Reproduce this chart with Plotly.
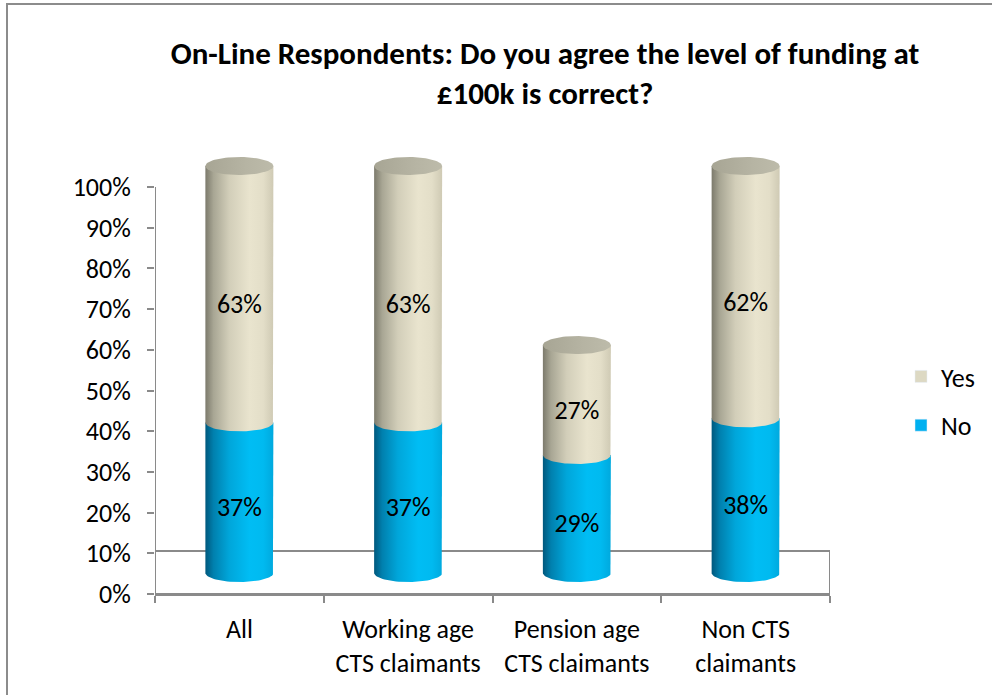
import numpy as np
import plotly.graph_objects as go

# Survey results (percent of respondents)
categories = ["All", "Working age<br>CTS claimants", "Pension age<br>CTS claimants", "Non CTS<br>claimants"]
no_values = [37, 37, 29, 38]
yes_values = [63, 63, 27, 62]
tick_values = [0, 10, 20, 30, 40, 50, 60, 70, 80, 90, 100]
tick_labels = [f"{v}%" for v in tick_values]

FONT = "Carlito, Lato, sans-serif"
W, H = 992, 695
PLOT_L, PLOT_R, PLOT_T, PLOT_B = 155, 830, 140, 594
PX_PER_UNIT = 4.07                      # pixels per percentage point
Y_TOP = (PLOT_B - PLOT_T) / PX_PER_UNIT
DEPTH_SHIFT = 21 / PX_PER_UNIT          # cylinders sit in the middle of the 3D floor
FLOOR_BACK = 43 / PX_PER_UNIT           # depth of the floor panel
X_PER_CAT = (PLOT_R - PLOT_L) / 4
RX = 34 / X_PER_CAT                     # cylinder radius (x units)
RY = 9 / PX_PER_UNIT                    # ellipse half-height (y units)
LABEL_DROP = 12 / PX_PER_UNIT           # labels sit on the front face

NO_BODY = [[0, "#00587d"], [0.12, "#0080ae"], [0.35, "#00a6da"],
           [0.65, "#00bdf4"], [0.85, "#00baf0"], [1, "#00a9de"]]
YES_BODY = [[0, "#7c7a6c"], [0.12, "#a8a694"], [0.35, "#d2ceb9"],
            [0.65, "#e9e4ce"], [0.85, "#e3dec8"], [1, "#cfcab4"]]
YES_TOP = [[0, "#a7a594"], [0.6, "#b6b4a3"], [1, "#bdbbaa"]]

fig = go.Figure()

t = np.linspace(0, np.pi, 40)
t_full = np.linspace(0, 2 * np.pi, 80)


def body(cx, y0, y1, scale):
    # side rectangle plus the visible front arc of the base
    xs = [cx - RX, cx - RX, cx + RX] + list(cx + RX * np.cos(t))
    ys = [y0, y1, y1] + list(y0 - RY * np.sin(t))
    fig.add_trace(go.Scatter(
        x=xs, y=ys, yaxis="y2", mode="lines", fill="toself",
        line=dict(width=0), fillgradient=dict(type="horizontal", colorscale=scale),
        hoverinfo="skip", showlegend=False))


def cap(cx, y, scale):
    fig.add_trace(go.Scatter(
        x=list(cx + RX * np.cos(t_full)), y=list(y + RY * np.sin(t_full)),
        yaxis="y2", mode="lines", fill="toself", line=dict(width=0),
        fillgradient=dict(type="horizontal", colorscale=scale),
        hoverinfo="skip", showlegend=False))


for i, (n, y) in enumerate(zip(no_values, yes_values)):
    body(i, 0, n, NO_BODY)
    body(i, n, n + y, YES_BODY)
    cap(i, n + y, YES_TOP)

# value labels on the front face of each segment
label_x, label_y, label_txt = [], [], []
for i, (n, y) in enumerate(zip(no_values, yes_values)):
    label_x += [i, i]
    label_y += [n / 2 - LABEL_DROP, n + y / 2 - LABEL_DROP]
    label_txt += [f"{n}%", f"{y}%"]
fig.add_trace(go.Scatter(
    x=label_x, y=label_y, yaxis="y2", mode="text", text=label_txt,
    textfont=dict(family=FONT, size=26, color="#000000"),
    hoverinfo="skip", showlegend=False))

# legend entries
fig.add_trace(go.Bar(x=[None], y=[None], name="Yes", marker_color="#ddd9c3",
                     legendgroup="yes"))
fig.add_trace(go.Bar(x=[None], y=[None], name="No", marker_color="#00b0f0",
                     legendgroup="no"))

GRAY = "#8a8a8a"
shapes = [
    # floor panel
    dict(type="rect", xref="x", yref="y", x0=-0.5, x1=3.5, y0=0, y1=FLOOR_BACK,
         line=dict(color=GRAY, width=2), layer="below"),
    # value axis line
    dict(type="line", xref="x", yref="y", x0=-0.5, x1=-0.5, y0=0, y1=100,
         line=dict(color=GRAY, width=2), layer="below"),
    # chart border
    dict(type="rect", xref="paper", yref="paper",
         x0=(7 - PLOT_L) / (PLOT_R - PLOT_L), x1=1.4,
         y0=-0.4, y1=(PLOT_B - 4) / (PLOT_B - PLOT_T),
         line=dict(color="#8c8c8c", width=2), layer="below"),
]

fig.update_layout(
    width=W, height=H,
    margin=dict(l=PLOT_L, r=W - PLOT_R, t=PLOT_T, b=H - PLOT_B),
    paper_bgcolor="white", plot_bgcolor="rgba(0,0,0,0)",
    font=dict(family=FONT, size=26, color="#000000"),
    title=dict(text="<b>On-Line Respondents: Do you agree the level of funding at<br>£100k is correct?</b>",
               x=545 / W, xanchor="center", y=1 - 64 / H, yanchor="middle",
               font=dict(family=FONT, size=31, color="#000000")),
    xaxis=dict(range=[-0.5, 3.5], tickvals=[0, 1, 2, 3], ticktext=categories,
               showgrid=False, zeroline=False, showline=True, linecolor=GRAY,
               linewidth=2, ticks="", ticklabelstandoff=11,
               minor=dict(tickvals=[-0.5, 0.5, 1.5, 2.5, 3.5], ticks="outside",
                          ticklen=7, tickcolor=GRAY, tickwidth=2, showgrid=False),
               fixedrange=True),
    yaxis=dict(range=[0, Y_TOP], tickvals=tick_values, ticktext=tick_labels,
               showgrid=False, zeroline=False, showline=False,
               ticks="outside", ticklen=7, tickcolor=GRAY, tickwidth=2,
               ticklabelstandoff=11, fixedrange=True),
    yaxis2=dict(range=[-DEPTH_SHIFT, Y_TOP - DEPTH_SHIFT], overlaying="y",
                visible=False, fixedrange=True),
    legend=dict(x=(901 - PLOT_L) / (PLOT_R - PLOT_L), xanchor="left",
                y=(PLOT_B - 353) / (PLOT_B - PLOT_T), yanchor="top",
                traceorder="grouped", tracegroupgap=12,
                font=dict(family=FONT, size=26), bgcolor="rgba(0,0,0,0)"),
    shapes=shapes,
    showlegend=True,
)

fig.write_html("out.html")
